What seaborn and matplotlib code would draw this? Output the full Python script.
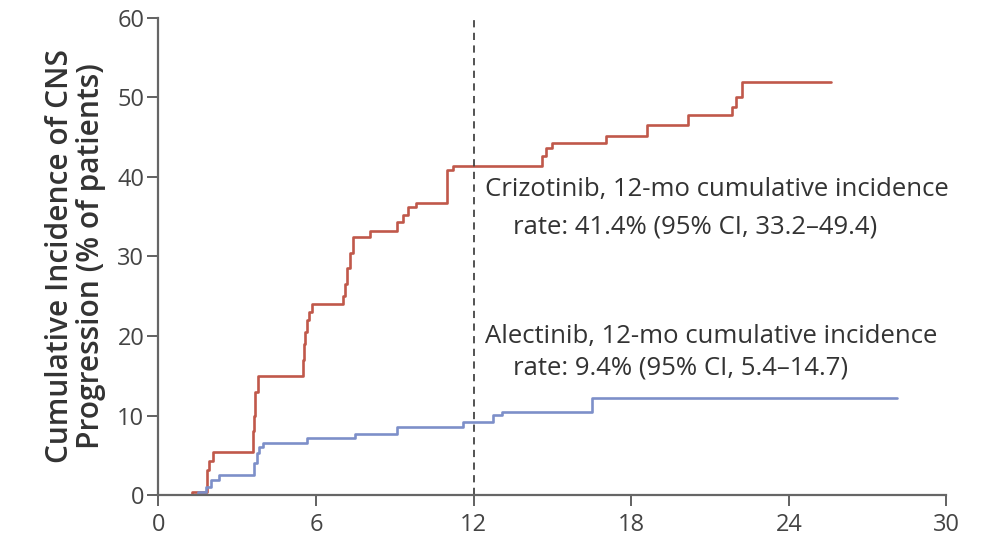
import matplotlib
matplotlib.use("Agg")
import matplotlib.pyplot as plt
import seaborn as sns
import pandas as pd

# Data (months, cumulative incidence %)
criz_t = [0, 1.3, 1.85, 1.95, 2.1, 3.6, 3.65, 3.7, 3.8, 5.5, 5.55, 5.6, 5.65, 5.75, 5.85,
          7.05, 7.1, 7.2, 7.3, 7.4, 8.05, 9.1, 9.3, 9.5, 9.8, 11.0, 11.2, 14.6, 14.75, 15.0,
          17.05, 18.6, 20.15, 21.85, 22.0, 22.2, 25.6]
criz_v = [0, 0.4, 3.1, 4.3, 5.4, 8.0, 10.0, 13.0, 15.0, 17.0, 19.0, 20.5, 22.0, 23.0, 24.0,
          25.0, 26.5, 28.5, 30.5, 32.5, 33.2, 34.3, 35.2, 36.2, 36.7, 40.9, 41.4, 42.6, 43.7, 44.3,
          45.2, 46.6, 47.8, 48.8, 50.0, 51.9, 51.9]
alec_t = [0, 1.5, 1.8, 2.0, 2.3, 3.65, 3.75, 3.85, 4.0, 5.65, 7.5, 9.1, 11.6, 12.75, 13.1, 16.5, 28.1]
alec_v = [0, 0.4, 1.0, 1.9, 2.5, 4.0, 5.3, 6.0, 6.5, 7.2, 7.7, 8.5, 9.2, 10.1, 10.5, 12.2, 12.2]

x_ticks = [0, 6, 12, 18, 24, 30]
y_ticks = [0, 10, 20, 30, 40, 50, 60]

criz_line1 = "Crizotinib, 12-mo cumulative incidence"
criz_line2 = "rate: 41.4% (95% CI, 33.2\u201349.4)"
alec_line1 = "Alectinib, 12-mo cumulative incidence"
alec_line2 = "rate: 9.4% (95% CI, 5.4\u201314.7)"
y_label = "Cumulative Incidence of CNS\nProgression (% of patients)"

df = pd.concat([
    pd.DataFrame({"t": criz_t, "v": criz_v, "arm": "Crizotinib"}),
    pd.DataFrame({"t": alec_t, "v": alec_v, "arm": "Alectinib"}),
])

sns.set_theme(style="ticks")
plt.rcParams["font.family"] = ["Open Sans", "DejaVu Sans"]

fig = plt.figure(figsize=(9.89, 5.44), dpi=100)
ax = fig.add_axes([0.160, 0.090, 0.797, 0.877])

palette = {"Crizotinib": "#c0584a", "Alectinib": "#7d8fc9"}
sns.lineplot(data=df, x="t", y="v", hue="arm", palette=palette, drawstyle="steps-post",
             linewidth=1.9, legend=False, ax=ax, estimator=None, sort=False)

ax.axvline(12, color="#444444", linestyle=(0, (4, 3)), linewidth=1.3, ymin=0, ymax=1.0)

ax.set_xlim(0, 30)
ax.set_ylim(0, 60)
ax.set_xticks(x_ticks)
ax.set_yticks(y_ticks)
ax.tick_params(axis="both", colors="#555555", labelcolor="#444444", labelsize=17,
               length=8, width=1.3, direction="out", pad=2)
ax.tick_params(axis="x", pad=5)
for s in ["top", "right"]:
    ax.spines[s].set_visible(False)
for s in ["left", "bottom"]:
    ax.spines[s].set_color("#666666")
    ax.spines[s].set_linewidth(1.6)

ax.set_xlabel("")
ax.set_ylabel(y_label, fontsize=21.5, fontweight="semibold", color="#333333", labelpad=8,
              linespacing=1.05)

fs = 18.5
ax.text(12.45, 38.4, criz_line1, fontsize=fs, color="#333333", ha="left", va="center")
ax.text(13.5, 33.7, criz_line2, fontsize=fs, color="#333333", ha="left", va="center")
ax.text(12.45, 20.0, alec_line1, fontsize=fs, color="#333333", ha="left", va="center")
ax.text(13.5, 16.0, alec_line2, fontsize=fs, color="#333333", ha="left", va="center")

fig.savefig("out.png", dpi=100)
